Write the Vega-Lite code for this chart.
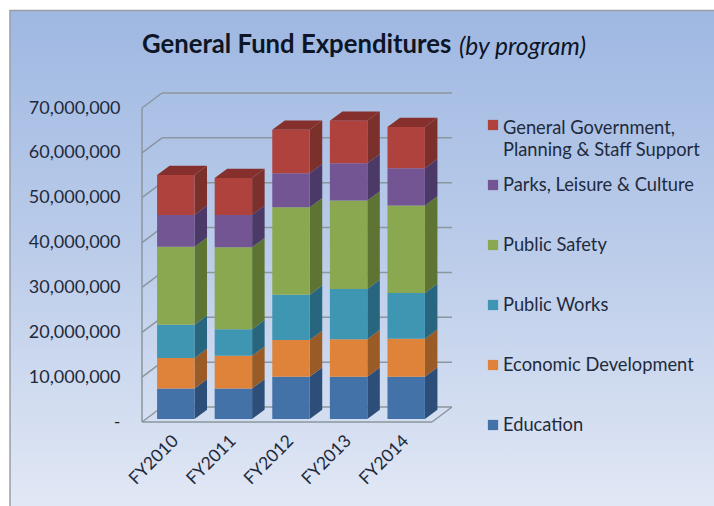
{
  "$schema": "https://vega.github.io/schema/vega-lite/v6.json",
  "width": 714,
  "height": 506,
  "padding": 0,
  "autosize": "none",
  "background": "#ffffff",
  "config": {"view": {"stroke": null}},
  "title": {
    "text": "General Fund Expenditures",
    "anchor": "start",
    "frame": "group",
    "dx": 142,
    "offset": -59,
    "font": "Lato",
    "fontSize": 25.7,
    "fontWeight": "bold",
    "color": "#0d1526"
  },
  "datasets": {
    "spend": [
      {"year": "FY2010", "program": "Education", "rank": 1, "amount": 6800000},
      {"year": "FY2010", "program": "Economic Development", "rank": 2, "amount": 6800000},
      {"year": "FY2010", "program": "Public Works", "rank": 3, "amount": 7400000},
      {"year": "FY2010", "program": "Public Safety", "rank": 4, "amount": 17400000},
      {"year": "FY2010", "program": "Parks, Leisure & Culture", "rank": 5, "amount": 7100000},
      {"year": "FY2010", "program": "General Government,\nPlanning & Staff Support", "rank": 6, "amount": 8900000},
      {"year": "FY2011", "program": "Education", "rank": 1, "amount": 6800000},
      {"year": "FY2011", "program": "Economic Development", "rank": 2, "amount": 7300000},
      {"year": "FY2011", "program": "Public Works", "rank": 3, "amount": 5900000},
      {"year": "FY2011", "program": "Public Safety", "rank": 4, "amount": 18300000},
      {"year": "FY2011", "program": "Parks, Leisure & Culture", "rank": 5, "amount": 7200000},
      {"year": "FY2011", "program": "General Government,\nPlanning & Staff Support", "rank": 6, "amount": 8200000},
      {"year": "FY2012", "program": "Education", "rank": 1, "amount": 9400000},
      {"year": "FY2012", "program": "Economic Development", "rank": 2, "amount": 8200000},
      {"year": "FY2012", "program": "Public Works", "rank": 3, "amount": 10100000},
      {"year": "FY2012", "program": "Public Safety", "rank": 4, "amount": 19500000},
      {"year": "FY2012", "program": "Parks, Leisure & Culture", "rank": 5, "amount": 7600000},
      {"year": "FY2012", "program": "General Government,\nPlanning & Staff Support", "rank": 6, "amount": 9700000},
      {"year": "FY2013", "program": "Education", "rank": 1, "amount": 9400000},
      {"year": "FY2013", "program": "Economic Development", "rank": 2, "amount": 8400000},
      {"year": "FY2013", "program": "Public Works", "rank": 3, "amount": 11200000},
      {"year": "FY2013", "program": "Public Safety", "rank": 4, "amount": 19700000},
      {"year": "FY2013", "program": "Parks, Leisure & Culture", "rank": 5, "amount": 8300000},
      {"year": "FY2013", "program": "General Government,\nPlanning & Staff Support", "rank": 6, "amount": 9500000},
      {"year": "FY2014", "program": "Education", "rank": 1, "amount": 9400000},
      {"year": "FY2014", "program": "Economic Development", "rank": 2, "amount": 8500000},
      {"year": "FY2014", "program": "Public Works", "rank": 3, "amount": 10200000},
      {"year": "FY2014", "program": "Public Safety", "rank": 4, "amount": 19500000},
      {"year": "FY2014", "program": "Parks, Leisure & Culture", "rank": 5, "amount": 8300000},
      {"year": "FY2014", "program": "General Government,\nPlanning & Staff Support", "rank": 6, "amount": 9200000}
    ],
    "ticks": [
      {"tick": 0}, {"tick": 10000000}, {"tick": 20000000}, {"tick": 30000000},
      {"tick": 40000000}, {"tick": 50000000}, {"tick": 60000000}, {"tick": 70000000}
    ],
    "programs": [
      {"program": "General Government,\nPlanning & Staff Support"},
      {"program": "Parks, Leisure & Culture"},
      {"program": "Public Safety"},
      {"program": "Public Works"},
      {"program": "Economic Development"},
      {"program": "Education"}
    ]
  },
  "resolve": {"scale": {"x": "independent", "y": "independent", "color": "independent"}},
  "layer": [
    {
      "description": "Panel behind the chart",
      "data": {"values": [{}]},
      "mark": {
        "type": "rect",
        "stroke": "#9a9fa6",
        "strokeWidth": 1.5,
        "color": {
          "gradient": "linear",
          "x1": 0, "y1": 0, "x2": 0, "y2": 1,
          "stops": [
            {"offset": 0, "color": "#9fb8e2"},
            {"offset": 0.5, "color": "#bccdea"},
            {"offset": 1, "color": "#e2e8f5"}
          ]
        }
      },
      "encoding": {
        "x": {"value": 10},
        "x2": {"value": 718},
        "y": {"value": 10.5},
        "y2": {"value": 510}
      }
    },
    {
      "description": "Side wall gridlines running back from the front edge",
      "data": {"name": "ticks"},
      "transform": [
        {"calculate": "datum.tick - 669000", "as": "front"},
        {"calculate": "datum.tick + 2675000", "as": "back"},
        {"calculate": "0", "as": "near"},
        {"calculate": "20", "as": "far"}
      ],
      "mark": {"type": "rule", "color": "#8b969e", "strokeWidth": 1.5},
      "encoding": {
        "x": {"field": "near", "type": "quantitative", "axis": null, "scale": {"domain": [0, 310], "range": [142, 452]}},
        "x2": {"field": "far"},
        "y": {"field": "front", "type": "quantitative", "axis": null, "scale": {"domain": [0, 70000000], "range": [419, 105]}},
        "y2": {"field": "back"}
      }
    },
    {
      "description": "Back wall gridlines",
      "data": {"name": "ticks"},
      "transform": [
        {"calculate": "datum.tick + 2675000", "as": "back"},
        {"calculate": "20", "as": "near"},
        {"calculate": "310", "as": "far"}
      ],
      "mark": {"type": "rule", "color": "#8b969e", "strokeWidth": 1.5},
      "encoding": {
        "x": {"field": "near", "type": "quantitative", "axis": null, "scale": {"domain": [0, 310], "range": [142, 452]}},
        "x2": {"field": "far"},
        "y": {"field": "back", "type": "quantitative", "axis": null, "scale": {"domain": [0, 70000000], "range": [419, 105]}}
      }
    },
    {
      "description": "Front vertical edge of the wall",
      "data": {"values": [{"low": -669000, "high": 69331000, "near": 0}]},
      "mark": {"type": "rule", "color": "#8b969e", "strokeWidth": 1.5},
      "encoding": {
        "x": {"field": "near", "type": "quantitative", "axis": null, "scale": {"domain": [0, 310], "range": [142, 452]}},
        "y": {"field": "low", "type": "quantitative", "axis": null, "scale": {"domain": [0, 70000000], "range": [419, 105]}},
        "y2": {"field": "high"}
      }
    },
    {
      "description": "Front edge of the floor",
      "data": {"values": [{"level": -669000, "near": 0, "far": 290}]},
      "mark": {"type": "rule", "color": "#8b969e", "strokeWidth": 1.5},
      "encoding": {
        "x": {"field": "near", "type": "quantitative", "axis": null, "scale": {"domain": [0, 310], "range": [142, 452]}},
        "x2": {"field": "far"},
        "y": {"field": "level", "type": "quantitative", "axis": null, "scale": {"domain": [0, 70000000], "range": [419, 105]}}
      }
    },
    {
      "description": "Right edge of the floor",
      "data": {"values": [{"low": -669000, "high": 2675000, "near": 290, "far": 310}]},
      "mark": {"type": "rule", "color": "#8b969e", "strokeWidth": 1.5},
      "encoding": {
        "x": {"field": "near", "type": "quantitative", "axis": null, "scale": {"domain": [0, 310], "range": [142, 452]}},
        "x2": {"field": "far"},
        "y": {"field": "low", "type": "quantitative", "axis": null, "scale": {"domain": [0, 70000000], "range": [419, 105]}},
        "y2": {"field": "high"}
      }
    },
    {
      "description": "Right-hand face of each stacked segment",
      "data": {"name": "spend"},
      "transform": [
        {"stack": "amount", "groupby": ["year"], "sort": [{"field": "rank", "order": "ascending"}], "as": ["low", "high"]},
        {"calculate": "[0, 1]", "as": "corner"},
        {"flatten": ["corner"]},
        {"calculate": "52.52 + 57.6 * (toNumber(slice(datum.year, 2)) - 2010) + 12.5 * datum.corner", "as": "sideX"},
        {"calculate": "datum.high + 2070000 * datum.corner", "as": "sideTop"},
        {"calculate": "datum.low + 2070000 * datum.corner", "as": "sideBottom"}
      ],
      "mark": {"type": "area", "orient": "vertical", "opacity": 1},
      "encoding": {
        "x": {"field": "sideX", "type": "quantitative", "axis": null, "scale": {"domain": [0, 310], "range": [142, 452]}},
        "y": {"field": "sideTop", "type": "quantitative", "axis": null, "stack": null, "scale": {"domain": [0, 70000000], "range": [419, 105]}},
        "y2": {"field": "sideBottom"},
        "color": {
          "field": "program",
          "type": "nominal",
          "legend": null,
          "scale": {
            "domain": ["Education", "Economic Development", "Public Works", "Public Safety", "Parks, Leisure & Culture", "General Government,\nPlanning & Staff Support"],
            "range": ["#2c4e78", "#9a5b26", "#27667e", "#5e7433", "#4b3a68", "#7c302c"]
          }
        },
        "detail": {"field": "year", "type": "nominal"}
      }
    },
    {
      "description": "Top face of each column",
      "data": {"name": "spend"},
      "transform": [
        {"stack": "amount", "groupby": ["year"], "sort": [{"field": "rank", "order": "ascending"}], "as": ["low", "high"]},
        {"filter": "datum.rank === 6"},
        {"calculate": "[0, 1]", "as": "corner"},
        {"flatten": ["corner"]},
        {"calculate": "15.08 + 57.6 * (toNumber(slice(datum.year, 2)) - 2010) + 12.5 * datum.corner", "as": "topLeft"},
        {"calculate": "52.52 + 57.6 * (toNumber(slice(datum.year, 2)) - 2010) + 12.5 * datum.corner", "as": "topRight"},
        {"calculate": "datum.high + 2070000 * datum.corner", "as": "topLevel"}
      ],
      "mark": {"type": "area", "orient": "horizontal", "color": "#85302c", "opacity": 1},
      "encoding": {
        "y": {"field": "topLevel", "type": "quantitative", "axis": null, "stack": null, "scale": {"domain": [0, 70000000], "range": [419, 105]}},
        "x": {"field": "topLeft", "type": "quantitative", "axis": null, "stack": null, "scale": {"domain": [0, 310], "range": [142, 452]}},
        "x2": {"field": "topRight"},
        "detail": {"field": "year", "type": "nominal"}
      }
    },
    {
      "description": "Front faces of the stacked columns, with both axes",
      "data": {"name": "spend"},
      "transform": [
        {"stack": "amount", "groupby": ["year"], "sort": [{"field": "rank", "order": "ascending"}], "as": ["low", "high"]}
      ],
      "mark": {"type": "bar"},
      "encoding": {
        "x": {
          "field": "year",
          "type": "ordinal",
          "scale": {"range": [147, 435], "paddingInner": 0.35, "paddingOuter": 0.175},
          "axis": {
            "orient": "bottom",
            "offset": -78,
            "zindex": 1,
            "title": null,
            "domain": false,
            "ticks": false,
            "labelAngle": -45,
            "labelAlign": "right",
            "labelBaseline": "middle",
            "labelPadding": 10,
            "labelFont": "Lato",
            "labelFontSize": 17.5,
            "labelColor": "#1f2a3c"
          }
        },
        "y": {
          "field": "low",
          "type": "quantitative",
          "stack": null,
          "scale": {"domain": [0, 70000000], "range": [419, 105]},
          "axis": {
            "orient": "left",
            "offset": -142,
            "zindex": 1,
            "title": null,
            "domain": false,
            "ticks": false,
            "grid": false,
            "values": [0, 10000000, 20000000, 30000000, 40000000, 50000000, 60000000, 70000000],
            "labelExpr": "datum.value === 0 ? '-' : format(datum.value, ',')",
            "labelOffset": 3,
            "labelPadding": 22,
            "labelFont": "Lato",
            "labelFontSize": 18,
            "labelColor": "#1f2a3c"
          }
        },
        "y2": {"field": "high"},
        "color": {
          "field": "program",
          "type": "nominal",
          "legend": null,
          "scale": {
            "domain": ["Education", "Economic Development", "Public Works", "Public Safety", "Parks, Leisure & Culture", "General Government,\nPlanning & Staff Support"],
            "range": ["#4372a8", "#e0833a", "#3f96b2", "#8aa84f", "#745594", "#b0423d"]
          }
        }
      }
    },
    {
      "description": "Key swatches",
      "data": {"name": "programs"},
      "transform": [{"calculate": "351", "as": "keyX"}],
      "mark": {"type": "point", "shape": "square", "filled": true, "size": 105, "opacity": 1},
      "encoding": {
        "x": {"field": "keyX", "type": "quantitative", "axis": null, "scale": {"domain": [0, 310], "range": [142, 452]}},
        "y": {"field": "program", "type": "nominal", "sort": null, "axis": null, "scale": {"type": "point", "range": [125, 425], "padding": 0}},
        "color": {
          "field": "program",
          "type": "nominal",
          "legend": null,
          "scale": {
            "domain": ["Education", "Economic Development", "Public Works", "Public Safety", "Parks, Leisure & Culture", "General Government,\nPlanning & Staff Support"],
            "range": ["#4372a8", "#e0833a", "#3f96b2", "#8aa84f", "#745594", "#b0423d"]
          }
        }
      }
    },
    {
      "description": "Key labels on one line",
      "data": {"name": "programs"},
      "transform": [
        {"filter": "indexof(datum.program, 'Planning') < 0"},
        {"calculate": "361", "as": "keyX"}
      ],
      "mark": {"type": "text", "align": "left", "baseline": "top", "dy": -8, "font": "Lato", "fontSize": 18.3, "color": "#1f2a3c"},
      "encoding": {
        "x": {"field": "keyX", "type": "quantitative", "axis": null, "scale": {"domain": [0, 310], "range": [142, 452]}},
        "y": {"field": "program", "type": "nominal", "axis": null, "scale": {"type": "point", "domain": ["General Government,\nPlanning & Staff Support", "Parks, Leisure & Culture", "Public Safety", "Public Works", "Economic Development", "Education"], "range": [125, 425], "padding": 0}},
        "text": {"field": "program", "type": "nominal"}
      }
    },
    {
      "description": "Two-line key label, sitting slightly lower than its swatch",
      "data": {"name": "programs"},
      "transform": [
        {"filter": "indexof(datum.program, 'Planning') >= 0"},
        {"calculate": "361", "as": "keyX"}
      ],
      "mark": {"type": "text", "align": "left", "baseline": "top", "dy": -5, "lineBreak": "\n", "lineHeight": 22, "font": "Lato", "fontSize": 18.3, "color": "#1f2a3c"},
      "encoding": {
        "x": {"field": "keyX", "type": "quantitative", "axis": null, "scale": {"domain": [0, 310], "range": [142, 452]}},
        "y": {"field": "program", "type": "nominal", "axis": null, "scale": {"type": "point", "domain": ["General Government,\nPlanning & Staff Support", "Parks, Leisure & Culture", "Public Safety", "Public Works", "Economic Development", "Education"], "range": [125, 425], "padding": 0}},
        "text": {"field": "program", "type": "nominal"}
      }
    },
    {
      "description": "Italic qualifier beside the heading",
      "data": {"values": [{"note": "(by program)", "noteX": 317, "noteY": 55}]},
      "mark": {"type": "text", "align": "left", "baseline": "alphabetic", "font": "Lato", "fontSize": 24.5, "fontStyle": "italic", "color": "#0d1526"},
      "encoding": {
        "x": {"field": "noteX", "type": "quantitative", "axis": null, "scale": {"domain": [0, 310], "range": [142, 452]}},
        "y": {"field": "noteY", "type": "quantitative", "axis": null, "scale": {"domain": [0, 506], "range": [0, 506]}},
        "text": {"field": "note", "type": "nominal"}
      }
    }
  ]
}
